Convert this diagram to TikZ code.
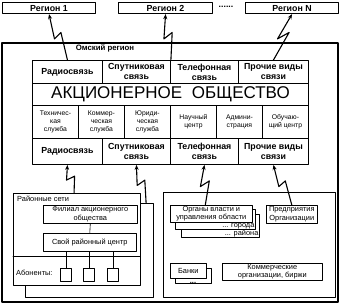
\documentclass[tikz,border=0pt]{standalone}
\usepackage{fontspec}
\setmainfont{Liberation Sans}
\usetikzlibrary{arrows.meta,calc}

\tikzset{
  box/.style={draw, line width=0.9pt, anchor=north west, inner sep=0pt, align=center},
  cell/.style={box, font=\bfseries\fontsize{8.8}{10}\selectfont},
  svc/.style={box, font=\fontsize{6.8}{8.3}\selectfont},
  small/.style={draw, line width=0.6pt, fill=white, anchor=north west, inner sep=0pt, align=center, font=\fontsize{7.4}{8.6}\selectfont},
  bolt/.style={line width=1.1pt, -{Stealth[length=5pt,width=4pt]}}
}
\newcommand\zigarrow[2]{\draw[bolt] (#1) -- ($(#1)!0.6!(#2)+(4.5,0)$) -- ($(#1)!0.46!(#2)+(-4.5,0)$) -- (#2);}

\begin{document}
\begin{tikzpicture}[line cap=round, line join=round, x=1pt, y=-1pt]
  \useasboundingbox (0,0) rectangle (340,305);
  \node[cell, line width=1.1pt, minimum width=93, minimum height=11] (reg1) at (2,2) {Регион 1};
  \node[cell, line width=1.1pt, minimum width=94, minimum height=11] (reg2) at (118,2) {Регион 2};
  \node[font=\bfseries\fontsize{8.8}{10}\selectfont] (dots) at (226,7) {......};
  \node[cell, line width=1.1pt, minimum width=93, minimum height=11] (regN) at (245,2) {Регион N};

  \draw[line width=1.2pt] (2,43) rectangle (338,302);
  \node[font=\bfseries\fontsize{7.8}{9}\selectfont] (omsk) at (105,48) {Омский регион};

  \node[cell, minimum width=70, minimum height=23] (t1) at (32,60) {Радиосвязь};
  \node[cell, minimum width=68, minimum height=23] (t2) at (102,60) {Спутниковая\\связь};
  \node[cell, minimum width=68, minimum height=23] (t3) at (170,60) {Телефонная\\связь};
  \node[cell, minimum width=70, minimum height=23] (t4) at (238,60) {Прочие виды\\связи};
  \node[box, minimum width=276, minimum height=22, font=\fontsize{17}{18}\selectfont] (ao) at (32,83) {АКЦИОНЕРНОЕ\hspace{5pt} ОБЩЕСТВО};
  \node[svc, minimum width=46, minimum height=33] (s1) at (32,105) {Техничес-\\кая\\служба};
  \node[svc, minimum width=46, minimum height=33] (s2) at (78,105) {Коммер-\\ческая\\служба};
  \node[svc, minimum width=46, minimum height=33] (s3) at (124,105) {Юриди-\\ческая\\служба};
  \node[svc, minimum width=46, minimum height=33] (s4) at (170,105) {Научный\\центр};
  \node[svc, minimum width=46, minimum height=33] (s5) at (216,105) {Админи-\\страция};
  \node[svc, minimum width=46, minimum height=33] (s6) at (262,105) {Обучаю-\\щий центр};
  \node[cell, minimum width=70, minimum height=26] (b1) at (32,138) {Радиосвязь};
  \node[cell, minimum width=68, minimum height=26] (b2) at (102,138) {Спутниковая\\связь};
  \node[cell, minimum width=68, minimum height=26] (b3) at (170,138) {Телефонная\\связь};
  \node[cell, minimum width=70, minimum height=26] (b4) at (238,138) {Прочие виды\\связи};

  \node[draw, line width=1.1pt, fill=white, anchor=north west, minimum width=128, minimum height=94] (rsback) at (25,203) {};
  \node[draw, line width=1.1pt, fill=white, anchor=north west, minimum width=127, minimum height=92] (rs) at (13,193) {};
  \node[anchor=west, inner sep=0pt, font=\fontsize{7.4}{8.6}\selectfont] (rslabel) at (17,199) {Районные сети};
  \node[small, minimum width=94, minimum height=18] (fil) at (43,205) {Филиал акционерного\\общества};
  \node[small, minimum width=93, minimum height=18] (ctr) at (43,233) {Свой районный центр};
  \draw[line width=0.6pt] (fil.south) -- (ctr.north);
  \draw[line width=0.9pt] (13,256) -- (140,256);
  \node[anchor=west, inner sep=0pt, font=\fontsize{7.4}{8.6}\selectfont] (ablabel) at (16,273) {Абоненты:};
  \node[small, minimum width=11, minimum height=13] (ab1) at (60,268) {};
  \node[small, minimum width=11, minimum height=13] (ab2) at (83,268) {};
  \node[small, minimum width=11, minimum height=13] (ab3) at (107,268) {};
  \draw[line width=0.6pt] (ab1.north) -- (ab1.north |- ctr.south);
  \draw[line width=0.6pt] (ab2.north) -- (ab2.north |- ctr.south);
  \draw[line width=0.6pt] (ab3.north) -- (ab3.north |- ctr.south);

  \node[draw, line width=1.1pt, anchor=north west, minimum width=172, minimum height=105] (org) at (163,192) {};
  \node[small, minimum width=78, minimum height=23, anchor=south west] (raion) at (181,238) {};
  \node[anchor=south east, inner sep=1pt, font=\fontsize{7.4}{8.6}\selectfont] (raiontxt) at (raion.south east) {... района};
  \node[small, minimum width=80, minimum height=20, anchor=south west] (gorod) at (175,230) {};
  \node[anchor=south east, inner sep=1pt, font=\fontsize{7.4}{8.6}\selectfont] (gorodtxt) at (gorod.south east) {... города};
  \node[small, minimum width=82, minimum height=17] (vlast) at (170,205) {Органы власти и\\управления области};
  \node[small, minimum width=51, minimum height=18] (pred) at (266,205) {Предприятия\\Организации};
  \node[small, minimum width=36, minimum height=15] (bankback) at (175,268) {};
  \node[small, minimum width=36, minimum height=15] (bank) at (170,263) {Банки};
  \node[anchor=base, inner sep=0pt, font=\bfseries\fontsize{7.4}{8.6}\selectfont] (bankdots) at (193,283) {...};
  \node[small, minimum width=100, minimum height=17] (comm) at (222,263) {Коммерческие\\организации, биржи};

  \zigarrow{t1.north}{reg1.south}
  \zigarrow{t2.north east}{reg2.south}
  \zigarrow{t4.north}{regN.south}
  \zigarrow{$(rs.north)+(-3,0)$}{b1.south}
  \zigarrow{$(rsback.north east)+(-8,0)$}{b2.south}
  \zigarrow{$(vlast.north)+(-6,0)$}{b3.south}
  \zigarrow{pred.north}{b4.south}
\end{tikzpicture}
\end{document}
